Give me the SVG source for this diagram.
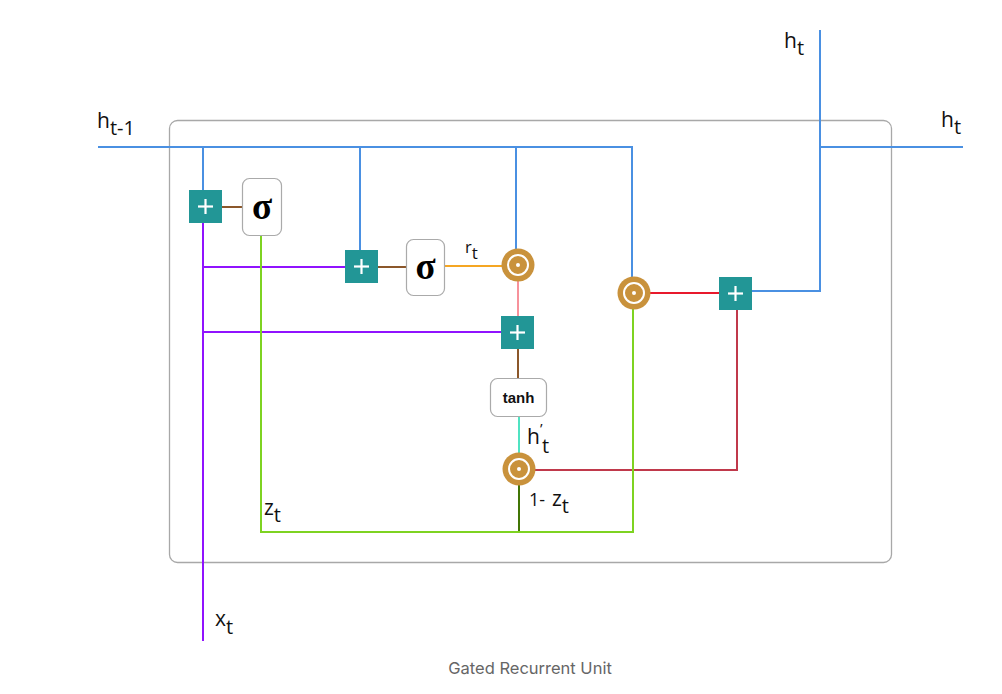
<svg xmlns="http://www.w3.org/2000/svg" width="1002" height="694" viewBox="0 0 1002 694">
<defs>
<style>
.lbl{font-family:"Open Sans","DejaVu Sans","Liberation Sans",sans-serif;font-size:21px;fill:#111}
.sub{font-size:20px}
.plus rect{fill:#229696}
.plus line{stroke:#fff;stroke-width:2.2}
.act rect{fill:#fff;stroke:#aaa;stroke-width:1.2}
.sig{font-family:"Liberation Serif","DejaVu Serif",serif;font-size:37px;font-weight:bold;fill:#000}
.mul circle.o{fill:#c9923c}
.mul circle.i{fill:none;stroke:#fff;stroke-width:2}
.mul circle.d{fill:#fff}
.w{fill:none;stroke-width:2}
</style>
</defs>
<rect width="1002" height="694" fill="#fff"/>
<rect id="cell" x="169.5" y="120.5" width="722" height="442" rx="8" fill="none" stroke="#a8a8a8" stroke-width="1.3"/>
<g id="connectors">
<polyline class="w" stroke="#4a90e2" points="98,147 632,147 632,278"/>
<line class="w" stroke="#4a90e2" x1="203" y1="147" x2="203" y2="190"/>
<line class="w" stroke="#4a90e2" x1="360" y1="147" x2="360" y2="250"/>
<line class="w" stroke="#4a90e2" x1="516" y1="147" x2="516" y2="250"/>
<polyline class="w" stroke="#4a90e2" points="752,291 820,291 820,30"/>
<line class="w" stroke="#4a90e2" x1="820" y1="147" x2="963" y2="147"/>
<line class="w" stroke="#9013fe" x1="203" y1="223" x2="203" y2="641"/>
<line class="w" stroke="#9013fe" x1="203" y1="267" x2="345" y2="267"/>
<line class="w" stroke="#9013fe" x1="203" y1="332" x2="501" y2="332"/>
<line class="w" stroke="#8b572a" x1="222" y1="207" x2="242" y2="207"/>
<line class="w" stroke="#8b572a" x1="378" y1="267" x2="406" y2="267"/>
<line class="w" stroke="#f5a623" x1="444" y1="266" x2="502" y2="266"/>
<line class="w" stroke="#f7929b" x1="518" y1="281" x2="518" y2="316"/>
<line class="w" stroke="#8b572a" x1="518" y1="349" x2="518" y2="378"/>
<line class="w" stroke="#50e3c2" x1="519" y1="416" x2="519" y2="454"/>
<line class="w" stroke="#417505" x1="519" y1="485" x2="519" y2="532"/>
<polyline class="w" stroke="#c0394b" points="535,470 737,470 737,310"/>
<line class="w" stroke="#e8192c" x1="650" y1="293" x2="719" y2="293"/>
<polyline class="w" stroke="#7ed321" points="261,235 261,532 633,532 633,309"/>
</g>
<g id="plus1" class="plus"><rect x="189" y="190" width="33" height="33"/><line x1="205.5" y1="199" x2="205.5" y2="214"/><line x1="198" y1="206.5" x2="213" y2="206.5"/></g>
<g id="sigma1" class="act"><rect x="242.5" y="178.5" width="39" height="57" rx="7"/><text class="sig" x="262" y="219" text-anchor="middle">σ</text></g>
<g id="plus2" class="plus"><rect x="345" y="250" width="33" height="33"/><line x1="361.5" y1="259" x2="361.5" y2="274"/><line x1="354" y1="266.5" x2="369" y2="266.5"/></g>
<g id="sigma2" class="act"><rect x="406.5" y="239.5" width="38" height="56" rx="7"/><text class="sig" x="425.5" y="279" text-anchor="middle">σ</text></g>
<g id="mul1" class="mul"><circle class="o" cx="518" cy="265" r="16.5"/><circle class="i" cx="518" cy="265" r="10"/><circle class="d" cx="518" cy="265" r="2"/></g>
<g id="plus3" class="plus"><rect x="501" y="316" width="33" height="33"/><line x1="517.5" y1="325" x2="517.5" y2="340"/><line x1="510" y1="332.5" x2="525" y2="332.5"/></g>
<g id="tanh" class="act"><rect x="490.5" y="378.5" width="56" height="38" rx="7"/><text x="518.5" y="402.5" text-anchor="middle" style="font-family:'Liberation Sans',Arial,sans-serif;font-size:15px;font-weight:bold;fill:#111">tanh</text></g>
<g id="mul3" class="mul"><circle class="o" cx="519" cy="469" r="16.5"/><circle class="i" cx="519" cy="469" r="10"/><circle class="d" cx="519" cy="469" r="2"/></g>
<g id="mul2" class="mul"><circle class="o" cx="634" cy="293" r="16.5"/><circle class="i" cx="634" cy="293" r="10"/><circle class="d" cx="634" cy="293" r="2"/></g>
<g id="plus4" class="plus"><rect x="719" y="277" width="33" height="33"/><line x1="735.5" y1="286" x2="735.5" y2="301"/><line x1="728" y1="293.5" x2="743" y2="293.5"/></g>
<g id="labels">
<text class="lbl" x="97" y="128">h<tspan class="sub" dy="7">t-1</tspan></text>
<text class="lbl" x="941" y="127">h<tspan class="sub" dy="7">t</tspan></text>
<text class="lbl" x="784" y="48">h<tspan class="sub" dy="7">t</tspan></text>
<text class="lbl" x="465" y="253" style="font-size:16.5px">r<tspan dy="6" style="font-size:17px">t</tspan></text>
<text class="lbl" x="527" y="444">h<tspan x="540" y="434" style="font-size:15px">’</tspan><tspan class="sub" x="542" y="453">t</tspan></text>
<text class="lbl" x="529" y="506" style="font-size:18px">1-<tspan x="552" style="font-size:21px">z</tspan><tspan class="sub" dy="7">t</tspan></text>
<text class="lbl" x="264" y="515">z<tspan class="sub" dy="7">t</tspan></text>
<text class="lbl" x="215" y="626">x<tspan class="sub" dy="8">t</tspan></text>
</g>
<text x="530" y="674" text-anchor="middle" style="font-family:Inter,'Liberation Sans',sans-serif;font-size:16.5px;fill:#666">Gated Recurrent Unit</text>
</svg>
